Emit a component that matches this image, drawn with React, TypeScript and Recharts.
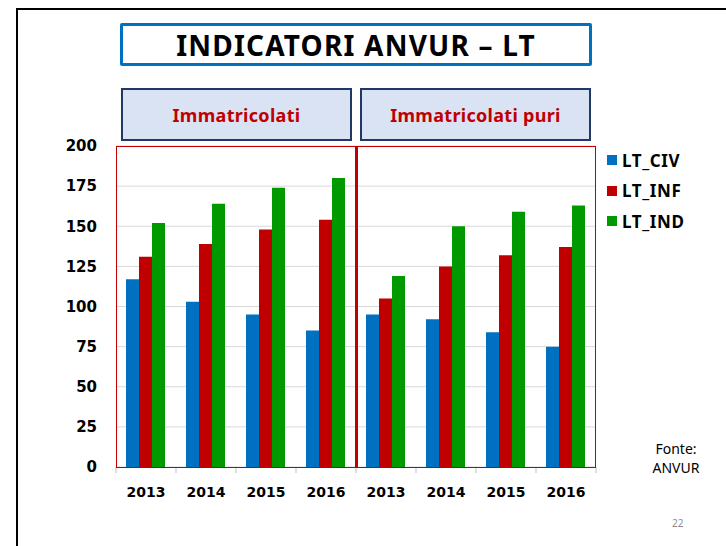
import React from 'react';
import { BarChart, Bar, XAxis, YAxis, CartesianGrid } from 'recharts';

const GROUPS = ['Immatricolati', 'Immatricolati puri'];
const YEARS = ['2013', '2014', '2015', '2016'];
const LT_CIV = [117, 103, 95, 85, 95, 92, 84, 75];
const LT_INF = [131, 139, 148, 154, 105, 125, 132, 137];
const LT_IND = [152, 164, 174, 180, 119, 150, 159, 163];
const Y_TICKS = [0, 25, 50, 75, 100, 125, 150, 175, 200];

const SERIES = [
  { key: 'civ', name: 'LT_CIV', color: '#0070C0' },
  { key: 'inf', name: 'LT_INF', color: '#C00000' },
  { key: 'ind', name: 'LT_IND', color: '#009900' },
];

const data = GROUPS.flatMap((g, gi) =>
  YEARS.map((y, yi) => {
    const i = gi * YEARS.length + yi;
    return { key: `${gi}-${y}`, civ: LT_CIV[i], inf: LT_INF[i], ind: LT_IND[i] };
  }),
);

const W = 726;
const H = 546;
const PLOT = { left: 116, top: 146, right: 596, bottom: 467 };
const AXIS_W = 60;
const BAND = (PLOT.right - PLOT.left) / data.length;

const TEXT_FONT = '"Noto Sans", "DejaVu Sans", sans-serif';
const TICK_FONT = '"DejaVu Sans", sans-serif';

// year label plus short gray marks at the category boundaries
const YearTick = (props: any) => {
  const { x, y, payload, index } = props;
  const left = x - BAND / 2;
  const right = x + BAND / 2;
  return (
    <g>
      <line x1={left} x2={left} y1={PLOT.bottom} y2={PLOT.bottom + 6} stroke="#BFBFBF" />
      {index === data.length - 1 && (
        <line x1={right} x2={right} y1={PLOT.bottom} y2={PLOT.bottom + 6} stroke="#BFBFBF" />
      )}
      <text x={x} y={y} dy="0.71em" textAnchor="middle" fill="#000" fontFamily={TICK_FONT} fontWeight={700} fontSize={14}>
        {String(payload.value).split('-')[1]}
      </text>
    </g>
  );
};

export default function App() {
  return (
    <div style={{ position: 'absolute', left: 0, top: 0, width: W, height: H, background: '#fff', overflow: 'hidden' }}>
      {/* slide frame */}
      <div style={{ position: 'absolute', left: 16, top: 8, width: W, height: H, borderLeft: '2px solid #000', borderTop: '2px solid #000' }} />

      {/* title */}
      <div
        style={{
          position: 'absolute', left: 120, top: 23, width: 466, height: 37,
          border: '3px solid #0070C0', borderRadius: 2, display: 'flex', alignItems: 'center',
          justifyContent: 'center', fontFamily: TEXT_FONT, fontWeight: 700, fontSize: 28, letterSpacing: 1.2,
        }}
      >
        INDICATORI ANVUR – LT
      </div>

      {/* group headers */}
      {GROUPS.map((g, i) => (
        <div
          key={g}
          style={{
            position: 'absolute', left: i === 0 ? 121 : 360, top: 88, width: 227, height: 49,
            background: '#DAE3F3', border: '2px solid #1F3864', display: 'flex', alignItems: 'center',
            justifyContent: 'center', fontFamily: TEXT_FONT, fontWeight: 700, fontSize: 18, color: '#C00000',
            letterSpacing: 0.3,
          }}
        >
          {g}
        </div>
      ))}

      <div style={{ position: 'absolute', left: 0, top: 0 }}>
        <BarChart
          width={W}
          height={H}
          data={data}
          margin={{ top: PLOT.top, left: PLOT.left - AXIS_W, right: W - PLOT.right, bottom: H - PLOT.bottom - 40 }}
          barCategoryGap={10}
          barGap={0}
        >
          <CartesianGrid vertical={false} stroke="#D9D9D9" />
          <XAxis
            dataKey="key"
            axisLine={false}
            tickLine={false}
            tick={<YearTick />}
            tickMargin={14}
            interval={0}
            height={40}
          />
          <YAxis
            domain={[0, 200]}
            ticks={Y_TICKS}
            width={AXIS_W}
            axisLine={false}
            tickLine={false}
            tickMargin={13}
            tick={{ fill: '#000', fontFamily: TICK_FONT, fontWeight: 700, fontSize: 15 }}
            interval={0}
          />
          {SERIES.map((s) => (
            <Bar key={s.key} dataKey={s.key} name={s.name} fill={s.color} isAnimationActive={false} />
          ))}
        </BarChart>
      </div>

      {/* plot border and group divider */}
      <div
        style={{
          position: 'absolute', left: PLOT.left, top: PLOT.top, width: PLOT.right - PLOT.left - 2,
          height: PLOT.bottom - PLOT.top - 1, border: '1px solid #C00000', pointerEvents: 'none',
        }}
      />
      <div
        style={{
          position: 'absolute', left: (PLOT.left + PLOT.right) / 2 - 1.5, top: PLOT.top, width: 3,
          height: PLOT.bottom - PLOT.top, background: '#C00000',
        }}
      />

      {/* legend */}
      <div style={{ position: 'absolute', left: 607, top: 145, fontFamily: TEXT_FONT, fontWeight: 700, fontSize: 17, letterSpacing: 0.6 }}>
        {SERIES.map((s) => (
          <div key={s.key} style={{ display: 'flex', alignItems: 'center', height: 30.5 }}>
            <span style={{ width: 10, height: 10, background: s.color, marginRight: 5 }} />
            <span>{s.name}</span>
          </div>
        ))}
      </div>

      <div style={{ position: 'absolute', left: 636, top: 442, width: 80, textAlign: 'center', fontFamily: TEXT_FONT, fontSize: 14, lineHeight: '14px' }}>
        Fonte:
      </div>
      <div style={{ position: 'absolute', left: 636, top: 461, width: 80, textAlign: 'center', fontFamily: TEXT_FONT, fontSize: 14, lineHeight: '14px' }}>
        ANVUR
      </div>
      <div style={{ position: 'absolute', left: 672, top: 516, fontFamily: TEXT_FONT, fontSize: 10, color: '#8C8C8C' }}>22</div>
    </div>
  );
}
